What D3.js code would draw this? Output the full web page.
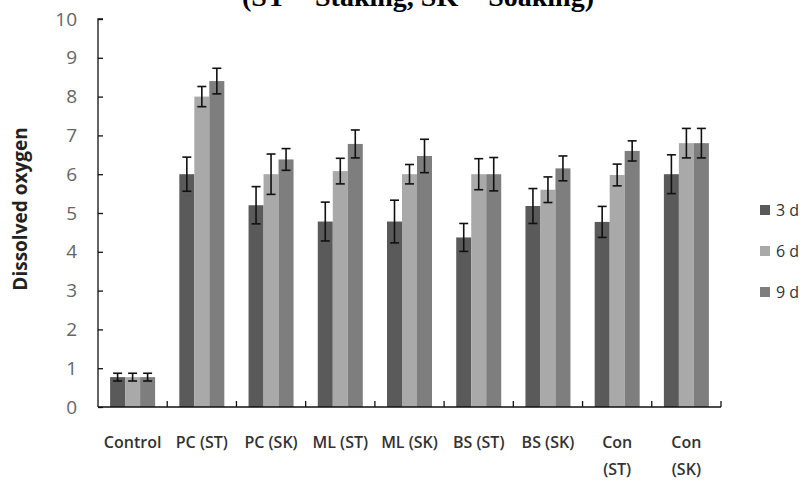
<!DOCTYPE html>
<html>
<head>
<meta charset="utf-8">
<script src="https://cdn.jsdelivr.net/npm/d3@7"></script>
<style>
body { margin:0; background:#fff; }
svg { display:block; }
</style>
</head>
<body>
<svg id="chart" width="808" height="481"></svg>
<script>

// categories and series
var categories=["Control","PC (ST)","PC (SK)","ML (ST)","ML (SK)","BS (ST)","BS (SK)","Con (ST)","Con (SK)"];
var catLabels=[["Control"],["PC (ST)"],["PC (SK)"],["ML (ST)"],["ML (SK)"],["BS (ST)"],["BS (SK)"],["Con","(ST)"],["Con","(SK)"]];
var seriesNames=["3 d","6 d","9 d"];
var seriesColors=["#5a5a5a","#a9a9a9","#7e7e7e"];

var vals3d=[0.77,6.0,5.2,4.78,4.78,4.37,5.18,4.77,6.0];
var vals6d=[0.77,8.0,6.0,6.08,6.0,6.0,5.6,5.98,6.8];
var vals9d=[0.77,8.4,6.38,6.78,6.47,6.0,6.15,6.6,6.8];

var err3d=[0.1,0.44,0.48,0.5,0.55,0.36,0.45,0.4,0.5];
var err6d=[0.1,0.26,0.52,0.33,0.25,0.4,0.33,0.28,0.38];
var err9d=[0.1,0.33,0.28,0.36,0.43,0.43,0.32,0.26,0.38];

var yTicks=[0,1,2,3,4,5,6,7,8,9,10];

var allVals=[vals3d,vals6d,vals9d];
var allErr=[err3d,err6d,err9d];

var svg=d3.select("#chart");
var plotL=98, plotR=721, plotT=19, plotB=407;

var x0=d3.scaleBand().domain(categories).range([plotL,plotR]).padding(0);
var groupW=45;
var x1=d3.scaleBand().domain(seriesNames)
	.range([(x0.bandwidth()-groupW)/2,(x0.bandwidth()+groupW)/2]).padding(0);
var y=d3.scaleLinear().domain([0,10]).range([plotB,plotT]);

// title (cut off at the top edge in the source)
svg.append("text")
	.attr("x",418).attr("y",6)
	.attr("text-anchor","middle")
	.style("font-family","'Liberation Serif', serif")
	.style("font-weight","bold")
	.style("font-size","28px")
	.text("(ST = Staking, SK = Soaking)");

// bars
var rows=[];
for(var c=0;c<categories.length;c++)
	{
	for(var s=0;s<seriesNames.length;s++)
		{
		rows.push({cat:categories[c],ser:seriesNames[s],si:s,v:allVals[s][c],e:allErr[s][c]});
		}
	}

svg.selectAll("rect.bar")
	.data(rows)
	.enter()
	.append("rect")
	.attr("class","bar")
	.attr("x",function(d) { return x0(d.cat)+x1(d.ser); })
	.attr("y",function(d) { return y(d.v); })
	.attr("width",x1.bandwidth())
	.attr("height",function(d) { return y(0)-y(d.v); })
	.style("fill",function(d) { return seriesColors[d.si]; });

// error bars
var eb=svg.selectAll("g.err")
	.data(rows)
	.enter()
	.append("g")
	.attr("class","err")
	.attr("transform",function(d) { return "translate("+(x0(d.cat)+x1(d.ser)+x1.bandwidth()/2)+",0)"; })
	.style("stroke","#111")
	.style("stroke-width","1.6");
eb.append("line")
	.attr("x1",0).attr("x2",0)
	.attr("y1",function(d) { return y(d.v+d.e); })
	.attr("y2",function(d) { return y(d.v-d.e); });
eb.append("line")
	.attr("x1",-4.5).attr("x2",4.5)
	.attr("y1",function(d) { return y(d.v+d.e); })
	.attr("y2",function(d) { return y(d.v+d.e); });
eb.append("line")
	.attr("x1",-4.5).attr("x2",4.5)
	.attr("y1",function(d) { return y(d.v-d.e); })
	.attr("y2",function(d) { return y(d.v-d.e); });

// y axis
var yAxis=d3.axisLeft(y).tickValues(yTicks).tickSize(-5).tickPadding(21).tickFormat(d3.format("d"));
var gy=svg.append("g").attr("transform","translate("+plotL+",0)").call(yAxis);
gy.select(".domain").attr("d","M5,"+plotT+"H0V"+plotB).style("stroke","#111").style("stroke-width","1.3");
gy.selectAll(".tick line").style("stroke","#111").style("stroke-width","1.3");
gy.selectAll(".tick text")
	.style("font-family","'Open Sans', sans-serif")
	.style("font-size","19px")
	.style("fill","#666");

// x axis with separator ticks
svg.append("line")
	.attr("x1",plotL).attr("x2",plotR)
	.attr("y1",plotB).attr("y2",plotB)
	.style("stroke","#111").style("stroke-width","1.3");
var sepData=categories.slice(1).map(function(c) { return x0(c); });
sepData.push(plotR);
svg.selectAll("line.sep")
	.data(sepData)
	.enter()
	.append("line")
	.attr("class","sep")
	.attr("x1",function(d) { return d; }).attr("x2",function(d) { return d; })
	.attr("y1",plotB).attr("y2",plotB-6)
	.style("stroke","#111").style("stroke-width","1.3");

var xl=svg.selectAll("text.xl")
	.data(categories)
	.enter()
	.append("text")
	.attr("class","xl")
	.attr("x",function(d) { return x0(d)+x0.bandwidth()/2; })
	.attr("y",448)
	.attr("text-anchor","middle")
	.style("font-family","'Open Sans', sans-serif")
	.style("font-size","16px")
	.style("font-weight","600")
	.style("fill","#333");
xl.each(function(d,i) {
	var t=d3.select(this);
	catLabels[i].forEach(function(line,k) {
		t.append("tspan")
			.attr("x",x0(d)+x0.bandwidth()/2)
			.attr("dy",k==0?0:27)
			.text(line);
		});
	});

// y axis title
svg.append("text")
	.attr("transform","translate(27,209) rotate(-90)")
	.attr("text-anchor","middle")
	.style("font-family","'Open Sans', sans-serif")
	.style("font-weight","bold")
	.style("font-size","19px")
	.style("fill","#222")
	.text("Dissolved oxygen");

// legend
var lg=svg.selectAll("g.lg")
	.data(seriesNames)
	.enter()
	.append("g")
	.attr("class","lg")
	.attr("transform",function(d,i) { return "translate(760,"+(210+i*41)+")"; });
lg.append("rect")
	.attr("x",0).attr("y",-5)
	.attr("width",10).attr("height",10)
	.style("fill",function(d,i) { return seriesColors[i]; });
lg.append("text")
	.attr("x",16).attr("y",6)
	.style("font-family","'Open Sans', sans-serif")
	.style("font-size","16px")
	.style("fill","#333")
	.text(function(d) { return d; });

</script>
</body>
</html>
